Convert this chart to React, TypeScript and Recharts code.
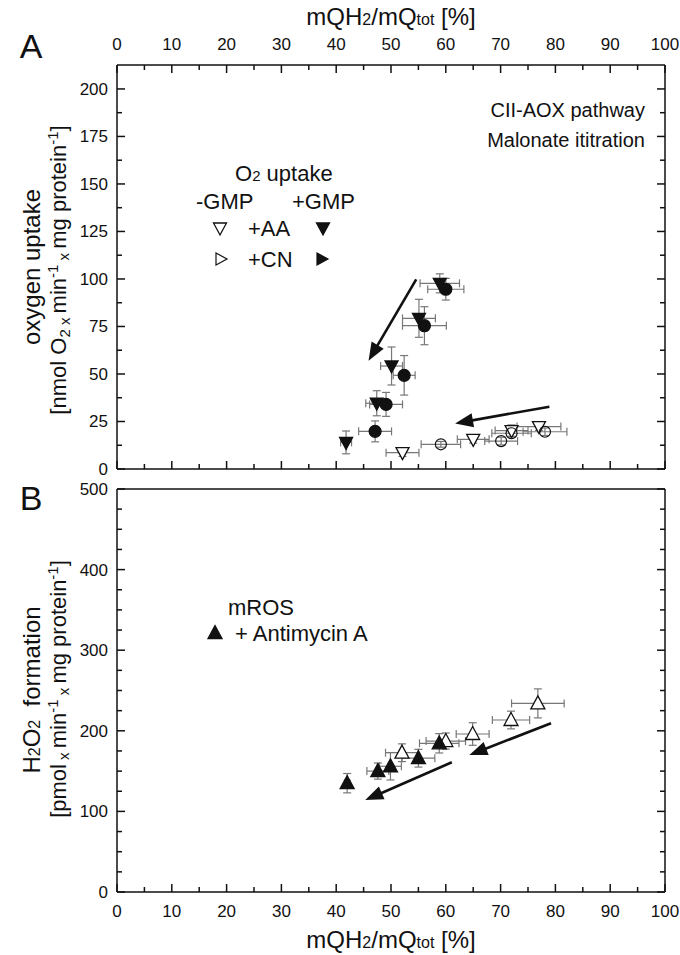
import React from 'react'
import { ScatterChart, Scatter, XAxis, YAxis, ErrorBar, ReferenceLine } from 'recharts'

const FONT = '"Liberation Sans", Arial, Helvetica, sans-serif'
const INK = '#111'
const BAR = '#777'

// axis ticks (minor ones carry no label)
const xTicks = [0, 5, 10, 15, 20, 25, 30, 35, 40, 45, 50, 55, 60, 65, 70, 75, 80, 85, 90, 95, 100]
const yTicksA = [0, 12.5, 25, 37.5, 50, 62.5, 75, 87.5, 100, 112.5, 125, 137.5, 150, 162.5, 175, 187.5, 200]
const yTicksB = [0, 25, 50, 75, 100, 125, 150, 175, 200, 225, 250, 275, 300, 325, 350, 375, 400, 425, 450, 475, 500]

// Panel A - O2 uptake, +AA +GMP (filled down triangles)
const aaGmpX = [41.8, 47.4, 50.1, 55.1, 58.9]
const aaGmpY = [14, 34.6, 54.2, 79.3, 97.7]
const aaGmpEx = [1, 2, 2, 3, 3.6]
const aaGmpEy = [6, 6.6, 10, 10, 5]

// +CN +GMP (filled circles)
const cnGmpX = [47.1, 49.1, 52.4, 56.1, 60.0]
const cnGmpY = [19.8, 34, 49.3, 75.4, 94.6]
const cnGmpEx = [3, 3, 2, 4, 3.3]
const cnGmpEy = [5.5, 6.3, 10.4, 10, 5.7]

// +AA -GMP (open down triangles)
const aaX = [52.1, 65.0, 72.0, 77.0]
const aaY = [8.6, 15.6, 20.2, 22.3]
const aaEx = [3, 2.9, 3, 4]
const aaEy = [2, 2, 3, 2]

// +CN -GMP (open circles)
const cnX = [59.1, 70.1, 72.0, 78.1]
const cnY = [13, 14.7, 18.8, 19.6]
const cnEx = [3.6, 3, 3.6, 4]
const cnEy = [1.5, 2, 2, 2]

// Panel B - H2O2 formation, + Antimycin A
const rosGmpX = [42, 47.6, 49.9, 55, 58.8]
const rosGmpY = [135, 150, 156, 166, 184.5]
const rosGmpEx = [0.5, 2, 2, 3, 3.6]
const rosGmpEy = [12, 10, 17, 11, 12]

const rosX = [52, 60, 64.9, 71.9, 76.8]
const rosY = [172.8, 187.3, 196, 213.4, 234]
const rosEx = [3, 3.6, 3, 3.4, 4.8]
const rosEy = [11, 10, 14, 11, 18]

// arrows [start, tip] in data units
const arrowA1 = [{ x: 54.6, y: 99.8 }, { x: 45.9, y: 57 }]
const arrowA2 = [{ x: 78.9, y: 32.8 }, { x: 61.7, y: 24 }]
const arrowB1 = [{ x: 61.1, y: 161 }, { x: 45.3, y: 114 }]
const arrowB2 = [{ x: 79.2, y: 209.3 }, { x: 64.3, y: 170 }]

const zip = (xs: number[], ys: number[], exs: number[], eys: number[]) =>
  xs.map((x, i) => ({ x, y: ys[i], ex: exs[i], ey: eys[i] }))

const aaGmp = zip(aaGmpX, aaGmpY, aaGmpEx, aaGmpEy)
const cnGmp = zip(cnGmpX, cnGmpY, cnGmpEx, cnGmpEy)
const aa = zip(aaX, aaY, aaEx, aaEy)
const cn = zip(cnX, cnY, cnEx, cnEy)
const rosGmp = zip(rosGmpX, rosGmpY, rosGmpEx, rosGmpEy)
const ros = zip(rosX, rosY, rosEx, rosEy)

type Side = 'top' | 'bottom' | 'left' | 'right'

function makeTick(side: Side, major: number, labels: boolean) {
  return (props: any) => {
    const { x, y, payload } = props
    const v = payload.value
    const isMajor = Math.abs(v / major - Math.round(v / major)) < 1e-6
    const len = isMajor ? 8 : 5
    const txt = { fontFamily: FONT, fontSize: 17, fill: INK }
    let line = null
    let label = null
    if (side === 'bottom') {
      line = <line x1={x} y1={y} x2={x} y2={y - len} stroke={INK} strokeWidth={1.5} />
      if (labels && isMajor) label = <text x={x} y={y + 25} textAnchor="middle" {...txt}>{v}</text>
    } else if (side === 'top') {
      line = <line x1={x} y1={y} x2={x} y2={y + len} stroke={INK} strokeWidth={1.5} />
      if (labels && isMajor) label = <text x={x} y={y - 15} textAnchor="middle" {...txt}>{v}</text>
    } else if (side === 'left') {
      line = <line x1={x} y1={y} x2={x + len} y2={y} stroke={INK} strokeWidth={1.5} />
      if (labels && isMajor) label = <text x={x - 9} y={y + 6} textAnchor="end" {...txt}>{v}</text>
    } else {
      line = <line x1={x} y1={y} x2={x - len} y2={y} stroke={INK} strokeWidth={1.5} />
    }
    return (
      <g>
        {line}
        {label}
      </g>
    )
  }
}

const downTri = (filled: boolean) => (p: any) => {
  const { cx, cy } = p
  return (
    <polygon
      points={`${cx - 6.5},${cy - 5} ${cx + 6.5},${cy - 5} ${cx},${cy + 7}`}
      fill={filled ? INK : '#fff'}
      stroke={INK}
      strokeWidth={1.3}
    />
  )
}

const upTri = (filled: boolean) => (p: any) => {
  const { cx, cy } = p
  return (
    <polygon
      points={`${cx - 7},${cy + 5.5} ${cx + 7},${cy + 5.5} ${cx},${cy - 7.5}`}
      fill={filled ? INK : '#fff'}
      stroke={INK}
      strokeWidth={1.3}
    />
  )
}

const rightTri = (filled: boolean) => (p: any) => {
  const { cx, cy } = p
  return (
    <polygon
      points={`${cx - 5},${cy - 6} ${cx - 5},${cy + 6} ${cx + 6},${cy}`}
      fill={filled ? INK : '#fff'}
      stroke={INK}
      strokeWidth={1.2}
    />
  )
}

const circle = (filled: boolean) => (p: any) => {
  const { cx, cy } = p
  return <circle cx={cx} cy={cy} r={filled ? 6 : 5.5} fill={filled ? INK : 'none'} stroke={INK} strokeWidth={1.2} />
}

function Arrow(props: any) {
  const { x1, y1, x2, y2 } = props
  const dx = x2 - x1
  const dy = y2 - y1
  const L = Math.hypot(dx, dy) || 1
  const ux = dx / L
  const uy = dy / L
  const head = 18
  const half = 7
  const bx = x2 - ux * head
  const by = y2 - uy * head
  return (
    <g>
      <line x1={x1} y1={y1} x2={bx + ux * 2} y2={by + uy * 2} stroke={INK} strokeWidth={2.6} />
      <polygon
        points={`${x2},${y2} ${bx - uy * half},${by + ux * half} ${bx + uy * half},${by - ux * half}`}
        fill={INK}
      />
    </g>
  )
}

const frame = { stroke: INK, strokeWidth: 1.5 }

function bars() {
  return [
    <ErrorBar key="ex" dataKey="ex" direction="x" width={4} stroke={BAR} strokeWidth={1.2} />,
    <ErrorBar key="ey" dataKey="ey" direction="y" width={4} stroke={BAR} strokeWidth={1.2} />,
  ]
}

function PanelA() {
  return (
    <ScatterChart width={680} height={480} margin={{ top: 0, right: 0, bottom: 0, left: 0 }}>
      <XAxis xAxisId="t" orientation="top" type="number" dataKey="x" domain={[0, 100]} allowDataOverflow
        ticks={xTicks} interval={0} height={65} tickSize={0} tickMargin={0} tickLine={false}
        axisLine={frame} tick={makeTick('top', 10, true)} />
      <XAxis xAxisId="b" orientation="bottom" type="number" dataKey="x" domain={[0, 100]} allowDataOverflow
        ticks={xTicks} interval={0} height={11} tickSize={0} tickMargin={0} tickLine={false}
        axisLine={frame} tick={makeTick('bottom', 10, false)} />
      <YAxis yAxisId="l" orientation="left" type="number" dataKey="y" domain={[0, 212.6]} allowDataOverflow
        ticks={yTicksA} interval={0} width={117} tickSize={0} tickMargin={0} tickLine={false}
        axisLine={frame} tick={makeTick('left', 25, true)} />
      <YAxis yAxisId="r" orientation="right" type="number" dataKey="y" domain={[0, 212.6]} allowDataOverflow
        ticks={yTicksA} interval={0} width={15} tickSize={0} tickMargin={0} tickLine={false}
        axisLine={frame} tick={makeTick('right', 25, false)} />

      <ReferenceLine xAxisId="b" yAxisId="l" segment={arrowA1} shape={Arrow} />
      <ReferenceLine xAxisId="b" yAxisId="l" segment={arrowA2} shape={Arrow} />

      <Scatter xAxisId="b" yAxisId="l" data={aa} shape={downTri(false)} isAnimationActive={false}>{bars()}</Scatter>
      <Scatter xAxisId="b" yAxisId="l" data={cn} shape={circle(false)} isAnimationActive={false}>{bars()}</Scatter>
      <Scatter xAxisId="b" yAxisId="l" data={cnGmp} shape={circle(true)} isAnimationActive={false}>{bars()}</Scatter>
      <Scatter xAxisId="b" yAxisId="l" data={aaGmp} shape={downTri(true)} isAnimationActive={false}>{bars()}</Scatter>
    </ScatterChart>
  )
}

function PanelB() {
  return (
    <ScatterChart width={680} height={475} margin={{ top: 0, right: 0, bottom: 0, left: 0 }}>
      <XAxis xAxisId="t" orientation="top" type="number" dataKey="x" domain={[0, 100]} allowDataOverflow
        height={9} tick={false} tickLine={false} axisLine={frame} />
      <XAxis xAxisId="b" orientation="bottom" type="number" dataKey="x" domain={[0, 100]} allowDataOverflow
        ticks={xTicks} interval={0} height={63} tickSize={0} tickMargin={0} tickLine={false}
        axisLine={frame} tick={makeTick('bottom', 10, true)} />
      <YAxis yAxisId="l" orientation="left" type="number" dataKey="y" domain={[0, 500]} allowDataOverflow
        ticks={yTicksB} interval={0} width={117} tickSize={0} tickMargin={0} tickLine={false}
        axisLine={frame} tick={makeTick('left', 100, true)} />
      <YAxis yAxisId="r" orientation="right" type="number" dataKey="y" domain={[0, 500]} allowDataOverflow
        ticks={yTicksB} interval={0} width={15} tickSize={0} tickMargin={0} tickLine={false}
        axisLine={frame} tick={makeTick('right', 100, false)} />

      <ReferenceLine xAxisId="b" yAxisId="l" segment={arrowB1} shape={Arrow} />
      <ReferenceLine xAxisId="b" yAxisId="l" segment={arrowB2} shape={Arrow} />

      <Scatter xAxisId="b" yAxisId="l" data={ros} shape={upTri(false)} isAnimationActive={false}>{bars()}</Scatter>
      <Scatter xAxisId="b" yAxisId="l" data={rosGmp} shape={upTri(true)} isAnimationActive={false}>{bars()}</Scatter>
    </ScatterChart>
  )
}

function Texts() {
  const t = { fontFamily: FONT, fill: INK }
  return (
    <svg width={680} height={955} style={{ position: 'absolute', left: 0, top: 0, pointerEvents: 'none' }}>
      {/* panel letters */}
      <text x={31} y={58} textAnchor="middle" fontSize={34} {...t}>A</text>
      <text x={31} y={510} textAnchor="middle" fontSize={34} {...t}>B</text>

      {/* x axis titles */}
      <text x={391} y={25} textAnchor="middle" fontSize={24} {...t}>
        mQH<tspan fontSize={16}>2</tspan>/mQ<tspan fontSize={16}>tot</tspan> [%]
      </text>
      <text x={391} y={948} textAnchor="middle" fontSize={24} {...t}>
        mQH<tspan fontSize={16}>2</tspan>/mQ<tspan fontSize={16}>tot</tspan> [%]
      </text>

      {/* y axis titles */}
      <text transform="translate(40,267) rotate(-90)" textAnchor="middle" fontSize={24} {...t}>oxygen uptake</text>
      <text transform="translate(66,270) rotate(-90)" textAnchor="middle" fontSize={22} {...t}>
        [nmol O<tspan fontSize={15} dy={4}>2</tspan>
        <tspan fontSize={15}> x </tspan>
        <tspan dy={-4}>min</tspan>
        <tspan fontSize={15} dy={-8}>-1</tspan>
        <tspan fontSize={15} dy={11}> x </tspan>
        <tspan dy={-3}>mg protein</tspan>
        <tspan fontSize={15} dy={-8}>-1</tspan>
        <tspan dy={8}>]</tspan>
      </text>

      <text transform="translate(40,690) rotate(-90)" textAnchor="middle" fontSize={24} {...t}>
        H<tspan fontSize={16}>2</tspan>O<tspan fontSize={16}>2</tspan>{'\u00a0\u00a0'}formation
      </text>
      <text transform="translate(66,689) rotate(-90)" textAnchor="middle" fontSize={22} {...t}>
        [pmol
        <tspan fontSize={15} dy={3}> x </tspan>
        <tspan dy={-3}>min</tspan>
        <tspan fontSize={15} dy={-8}>-1</tspan>
        <tspan fontSize={15} dy={11}> x </tspan>
        <tspan dy={-3}>mg protein</tspan>
        <tspan fontSize={15} dy={-8}>-1</tspan>
        <tspan dy={8}>]</tspan>
      </text>

      {/* panel A notes */}
      <text x={645} y={117} textAnchor="end" fontSize={20} {...t}>CII-AOX pathway</text>
      <text x={645} y={147} textAnchor="end" fontSize={20} {...t}>Malonate ititration</text>

      <text x={235} y={181} fontSize={22} {...t}>
        O<tspan fontSize={15}>2</tspan> uptake
      </text>
      <text x={196} y={209} fontSize={22} {...t}>-GMP</text>
      <text x={292} y={209} fontSize={22} {...t}>+GMP</text>
      <text x={248} y={236} fontSize={22} {...t}>+AA</text>
      <text x={248} y={267} fontSize={22} {...t}>+CN</text>
      {downTri(false)({ cx: 220, cy: 228 })}
      {downTri(true)({ cx: 323, cy: 228 })}
      {rightTri(false)({ cx: 221, cy: 259 })}
      {rightTri(true)({ cx: 322, cy: 259 })}

      {/* panel B notes */}
      <text x={228} y={615} fontSize={22} {...t}>mROS</text>
      {upTri(true)({ cx: 215, cy: 633 })}
      <text x={235} y={641} fontSize={22} {...t}>+ Antimycin A</text>
    </svg>
  )
}

export default function App() {
  return (
    <div style={{ position: 'absolute', left: 0, top: 0, width: 680, height: 955, background: '#fff', fontFamily: FONT }}>
      <div style={{ position: 'absolute', left: 0, top: 0 }}>
        <PanelA />
      </div>
      <div style={{ position: 'absolute', left: 0, top: 480 }}>
        <PanelB />
      </div>
      <Texts />
    </div>
  )
}
